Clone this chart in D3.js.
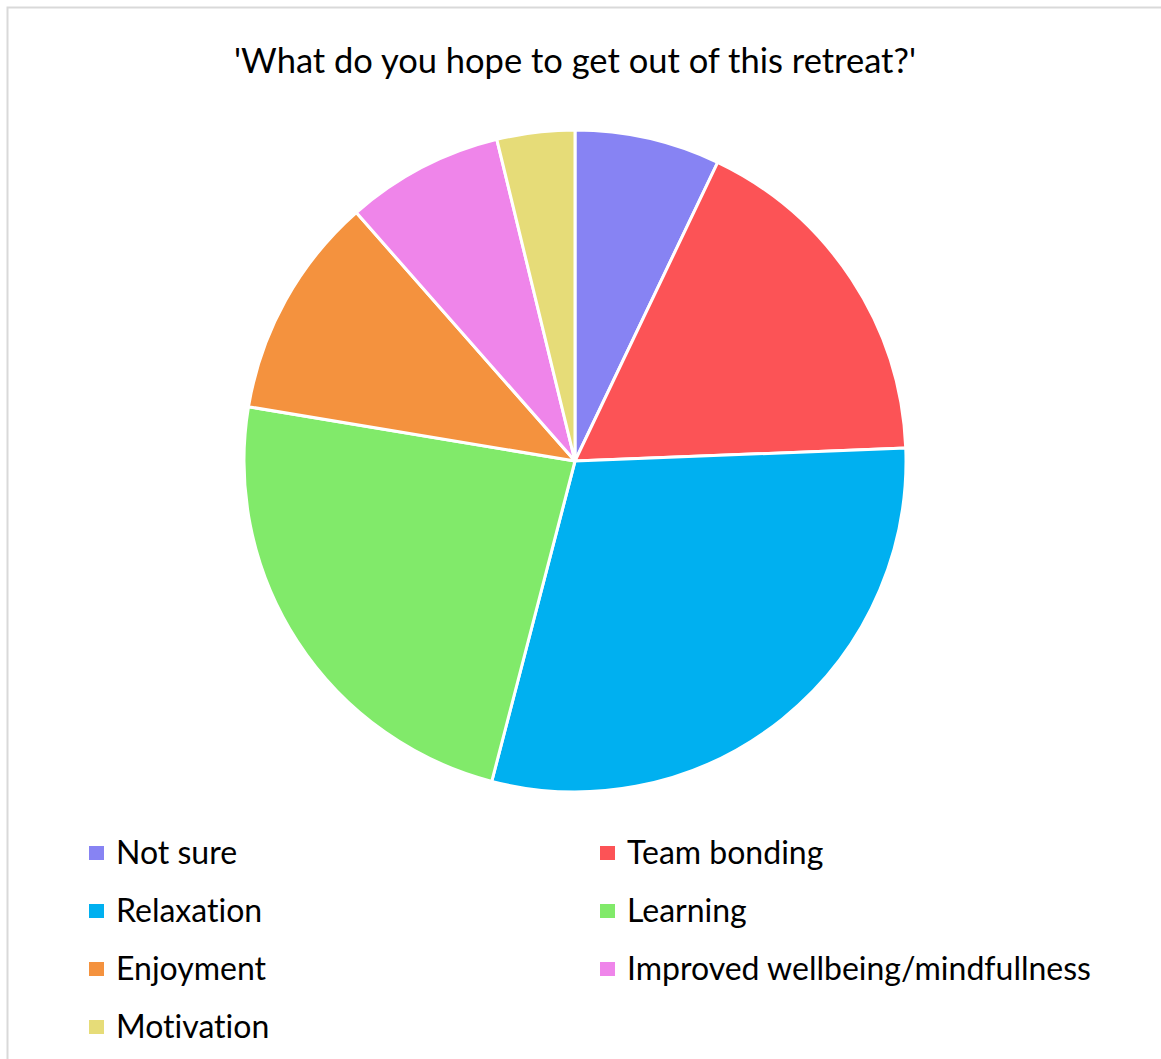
<!DOCTYPE html>
<html>
<head>
<meta charset="utf-8">
<script src="https://cdn.jsdelivr.net/npm/d3@7"></script>
<style>
  html, body { margin: 0; padding: 0; background: #fff; }
  svg { display: block; }
  text { font-family: Lato, "Open Sans", sans-serif; fill: #000; font-variant-ligatures: none; }
</style>
</head>
<body>
<svg id="chart" width="1161" height="1059"></svg>
<script>
// Survey answers, share of responses (%)
const categories = ["Not sure", "Team bonding", "Relaxation", "Learning", "Enjoyment", "Improved wellbeing/mindfullness", "Motivation"];
const shares = [7.1, 17.3, 29.7, 23.6, 10.9, 7.7, 3.8];
const colors = ["#8783F3", "#FC5356", "#00B0F0", "#81EA6A", "#F4923E", "#EF85EA", "#E6DC78"];
const title = "'What do you hope to get out of this retreat?'";

const svg = d3.select("#chart");
const W = 1161, H = 1059;

// chart area frame
svg.append("rect")
  .attr("x", 7.5).attr("y", 7.5)
  .attr("width", W).attr("height", H)
  .attr("fill", "#fff")
  .attr("stroke", "#d9d9d9").attr("stroke-width", 2);

svg.append("text")
  .attr("x", 575).attr("y", 73)
  .attr("text-anchor", "middle")
  .attr("font-size", 34.5)
  .text(title);

// pie
const cx = 575, cy = 461, R = 331;
const data = categories.map((c, i) => ({ name: c, value: shares[i], color: colors[i] }));
const pie = d3.pie().sort(null).value(d => d.value);
const arc = d3.arc().innerRadius(0).outerRadius(R);

svg.append("g")
  .attr("transform", `translate(${cx},${cy})`)
  .selectAll("path")
  .data(pie(data))
  .join("path")
  .attr("d", arc)
  .attr("fill", d => d.data.color)
  .attr("stroke", "#fff")
  .attr("stroke-width", 3)
  .attr("stroke-linejoin", "round");

// legend: two columns, filled row by row
const colX = d3.scaleOrdinal().domain([0, 1]).range([89, 600]);
const rowY = d3.scaleLinear().domain([0, 3]).range([853, 1027]);

const items = svg.append("g").selectAll("g")
  .data(data)
  .join("g")
  .attr("transform", (d, i) => `translate(${colX(i % 2)},${rowY(Math.floor(i / 2))})`);

items.append("rect")
  .attr("x", 0).attr("y", -7)
  .attr("width", 15).attr("height", 14)
  .attr("fill", d => d.color);

items.append("text")
  .attr("x", 27).attr("y", 11)
  .attr("font-size", 32)
  .text(d => d.name);
</script>
</body>
</html>
